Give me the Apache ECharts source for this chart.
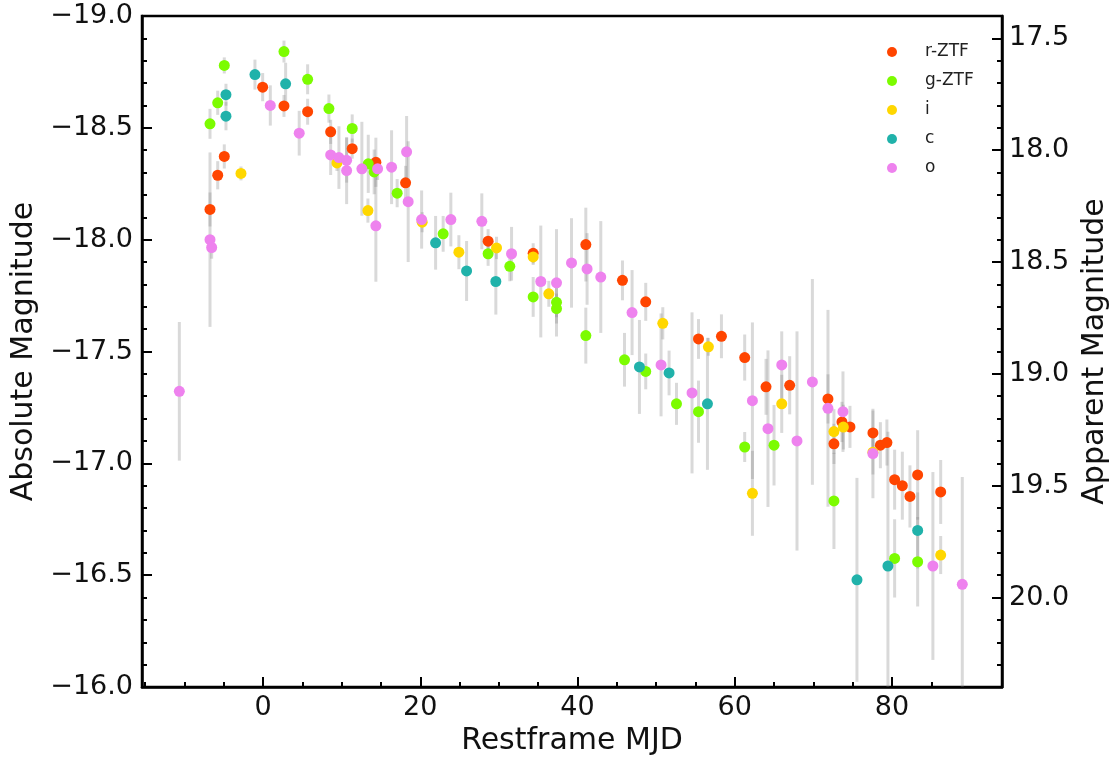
<!DOCTYPE html>
<html><head><meta charset="utf-8">
<script src="https://cdn.jsdelivr.net/npm/echarts@6/dist/echarts.min.js"></script>
<style>html,body{margin:0;padding:0;background:#fff}#c{width:1110px;height:761px}</style>
</head><body><div id="c"></div>
<script>
// ---- data ----
var bandNames = ['r-ZTF','g-ZTF','i','c','o'];
var bandColors = ['#FF4500','#7CFC00','#FFD700','#20B2AA','#EE82EE'];

var rX = [-6.75,-5.77,-4.93,-0.05,2.66,5.67,8.60,11.34,14.35,18.13,28.63,34.36,41.06,45.72,48.68,55.39,58.31,61.27,63.98,66.99,71.86,72.62,73.64,74.66,77.58,78.53,79.36,80.34,81.32,82.29,83.27,86.20];
var rY = [-18.135,-18.288,-18.372,-18.682,-18.598,-18.572,-18.482,-18.407,-18.346,-18.254,-17.993,-17.939,-17.978,-17.818,-17.722,-17.556,-17.568,-17.473,-17.342,-17.349,-17.288,-17.087,-17.185,-17.163,-17.136,-17.081,-17.093,-16.927,-16.900,-16.852,-16.948,-16.872];
var rE = [0.076,0.063,0.054,0.063,0.049,0.058,0.054,0.045,0.11,0.076,0.054,0.045,0.165,0.089,0.085,0.089,0.098,0.103,0.125,0.13,0.11,0.09,0.09,0.094,0.1,0.103,0.103,0.134,0.152,0.139,0.2,0.143];

var gX = [-6.75,-5.77,-4.93,2.66,5.67,8.38,11.34,13.38,14.13,17.06,22.91,28.63,31.39,34.36,37.33,37.33,41.06,45.98,48.68,52.59,55.39,61.27,65.0,72.62,80.34,83.27];
var gY = [-18.518,-18.612,-18.779,-18.841,-18.717,-18.586,-18.497,-18.339,-18.303,-18.208,-18.026,-17.937,-17.881,-17.744,-17.720,-17.692,-17.571,-17.463,-17.411,-17.266,-17.231,-17.073,-17.081,-16.832,-16.575,-16.560];
var gE = [0.067,0.054,0.036,0.049,0.067,0.063,0.063,0.13,0.1,0.063,0.08,0.054,0.067,0.089,0.067,0.067,0.125,0.12,0.08,0.094,0.139,0.067,0.18,0.215,0.175,0.2];

var iX = [-2.81,9.40,13.34,20.24,24.91,29.70,34.36,36.35,50.85,56.65,62.25,65.98,72.62,73.82,77.58,86.20];
var iY = [-18.296,-18.343,-18.130,-18.078,-17.944,-17.963,-17.923,-17.758,-17.626,-17.521,-16.866,-17.266,-17.142,-17.162,-17.050,-16.590];
var iE = [0.031,0.036,0.054,0.045,0.076,0.05,0.036,0.058,0.072,0.04,0.19,0.13,0.1,0.1,0.1,0.085];

var cX = [-4.72,-4.72,-1.03,2.87,21.95,25.89,29.61,47.88,51.65,56.53,75.55,79.49,83.27];
var cY = [-18.648,-18.552,-18.738,-18.697,-17.986,-17.860,-17.813,-17.431,-17.404,-17.266,-16.479,-16.541,-16.700];
var cE = [0.049,0.063,0.067,0.094,0.12,0.134,0.148,0.21,0.1,0.295,0.456,0.6,0.17];

var oX = [-10.65,-6.75,-6.54,0.92,4.60,8.60,9.65,10.63,10.63,12.57,14.57,14.35,16.35,18.26,18.46,20.17,23.89,27.83,31.61,35.33,37.33,39.24,41.22,42.96,46.94,50.63,54.57,62.25,64.23,65.98,67.92,69.88,71.86,73.77,77.58,85.21,88.95];
var oY = [-17.322,-18.0,-17.965,-18.600,-18.476,-18.379,-18.367,-18.355,-18.309,-18.317,-18.317,-18.062,-18.324,-18.393,-18.170,-18.090,-18.090,-18.082,-17.937,-17.813,-17.807,-17.896,-17.869,-17.833,-17.674,-17.440,-17.315,-17.280,-17.155,-17.440,-17.100,-17.364,-17.246,-17.231,-17.044,-16.541,-16.459];
var oE = [0.31,0.39,0.05,0.09,0.1,0.09,0.14,0.1,0.15,0.21,0.05,0.25,0.165,0.16,0.27,0.13,0.12,0.125,0.12,0.25,0.24,0.2,0.16,0.25,0.19,0.23,0.36,0.35,0.35,0.15,0.49,0.46,0.44,0.18,0.2,0.42,0.48];

var distMod = 36.4;   // apparent = absolute + distMod
var xMajorTicks = [0,20,40,60,80];
var xMinorTicks = [-15,-10,-5,5,10,15,25,30,35,45,50,55,65,70,75,85];
var appTicks = [17.5,18.0,18.5,19.0,19.5,20.0];

// ---- build ----
var bands = [[rX,rY,rE],[gX,gY,gE],[iX,iY,iE],[cX,cY,cE],[oX,oY,oE]];
var FONT = 'DejaVu Sans';
function minus(v, d){ var s = Math.abs(v).toFixed(d); return (v < 0 ? '\u2212' : '') + s; }

var series = [];
bands.forEach(function(b, k){
  var err = b[0].map(function(x, j){ return [x, b[1][j] - b[2][j], b[1][j] + b[2][j]]; });
  series.push({
    type:'custom', name: bandNames[k] + '_err', xAxisIndex:0, yAxisIndex:0, z:1, clip:true,
    encode:{x:0, y:[1,2]}, silent:true,
    renderItem:function(params, api){
      var p1 = api.coord([api.value(0), api.value(1)]);
      var p2 = api.coord([api.value(0), api.value(2)]);
      return {type:'line', shape:{x1:p1[0],y1:p1[1],x2:p2[0],y2:p2[1]},
              style:{stroke:'rgba(128,128,128,0.3)', lineWidth:3}};
    },
    data: err
  });
});
bands.forEach(function(b, k){
  series.push({
    type:'scatter', name: bandNames[k], xAxisIndex:0, yAxisIndex:0, z:3,
    symbol:'circle', symbolSize:11,
    itemStyle:{color: bandColors[k], opacity:1},
    data: b[0].map(function(x, j){ return [x, b[1][j]]; })
  });
});

var chart = echarts.init(document.getElementById('c'), null, {renderer:'canvas'});
chart.setOption({
  animation:false,
  backgroundColor:'#fff',
  grid:{left:142, right:108, top:16, bottom:74, show:true, borderColor:'#000', borderWidth:2.5,
        backgroundColor:'transparent', containLabel:false, outerBoundsMode:'none'},
  legend:{
    data: bandNames, orient:'vertical', left:882, top:37, itemWidth:10, itemHeight:10, itemGap:9,
    icon:'circle', textStyle:{fontFamily:FONT, fontSize:17, color:'#222', lineHeight:20, padding:[0,0,0,23]}
  },
  xAxis:[
    {type:'value', position:'bottom', min:-15.4, max:94, name:'Restframe MJD', nameLocation:'middle', nameGap:36,
     nameTextStyle:{fontFamily:FONT, fontSize:30, color:'#111'},
     axisLine:{show:true, onZero:false, lineStyle:{color:'#000', width:2.5}},
     axisTick:{show:true, inside:true, length:10, lineStyle:{color:'#000', width:2}, customValues:xMajorTicks},
     axisLabel:{show:true, margin:7, fontFamily:FONT, fontSize:27, color:'#111', customValues:xMajorTicks},
     splitLine:{show:false}},
    {type:'value', position:'bottom', min:-15.4, max:94,
     axisLine:{show:false, onZero:false},
     axisTick:{show:true, inside:true, length:5, lineStyle:{color:'#000', width:2}, customValues:xMinorTicks},
     axisLabel:{show:false}, splitLine:{show:false}}
  ],
  yAxis:[
    {type:'value', position:'left', min:-19, max:-16, interval:0.5, inverse:true,
     name:'Absolute Magnitude', nameLocation:'middle', nameGap:90,
     nameTextStyle:{fontFamily:FONT, fontSize:30, color:'#111'},
     axisLine:{show:true, onZero:false, lineStyle:{color:'#000', width:2.5}},
     axisTick:{show:true, inside:true, length:10, lineStyle:{color:'#000', width:2}},
     minorTick:{show:true, splitNumber:5, length:5, lineStyle:{color:'#000', width:2}},
     axisLabel:{margin:9, fontFamily:FONT, fontSize:27, color:'#111', formatter:function(v){return minus(v,1);}},
     splitLine:{show:false}},
    {type:'value', position:'right', min:-19 + distMod, max:-16 + distMod, inverse:true,
     name:'Apparent Magnitude', nameLocation:'middle', nameGap:68,
     nameTextStyle:{fontFamily:FONT, fontSize:30, color:'#111'},
     axisLine:{show:true, onZero:false, lineStyle:{color:'#000', width:2.5}},
     axisTick:{show:true, inside:true, length:10, lineStyle:{color:'#000', width:2}, customValues:appTicks},
     axisLabel:{margin:7, fontFamily:FONT, fontSize:27, color:'#111', customValues:appTicks, formatter:function(v){return v.toFixed(1);}},
     splitLine:{show:false}},
    {type:'value', position:'right', min:-19 + distMod, max:-16 + distMod, interval:0.1, inverse:true,
     axisLine:{show:false, onZero:false},
     axisTick:{show:true, inside:true, length:5, lineStyle:{color:'#000', width:2}},
     axisLabel:{show:false}, splitLine:{show:false}}
  ],
  series: series
});
</script></body></html>
